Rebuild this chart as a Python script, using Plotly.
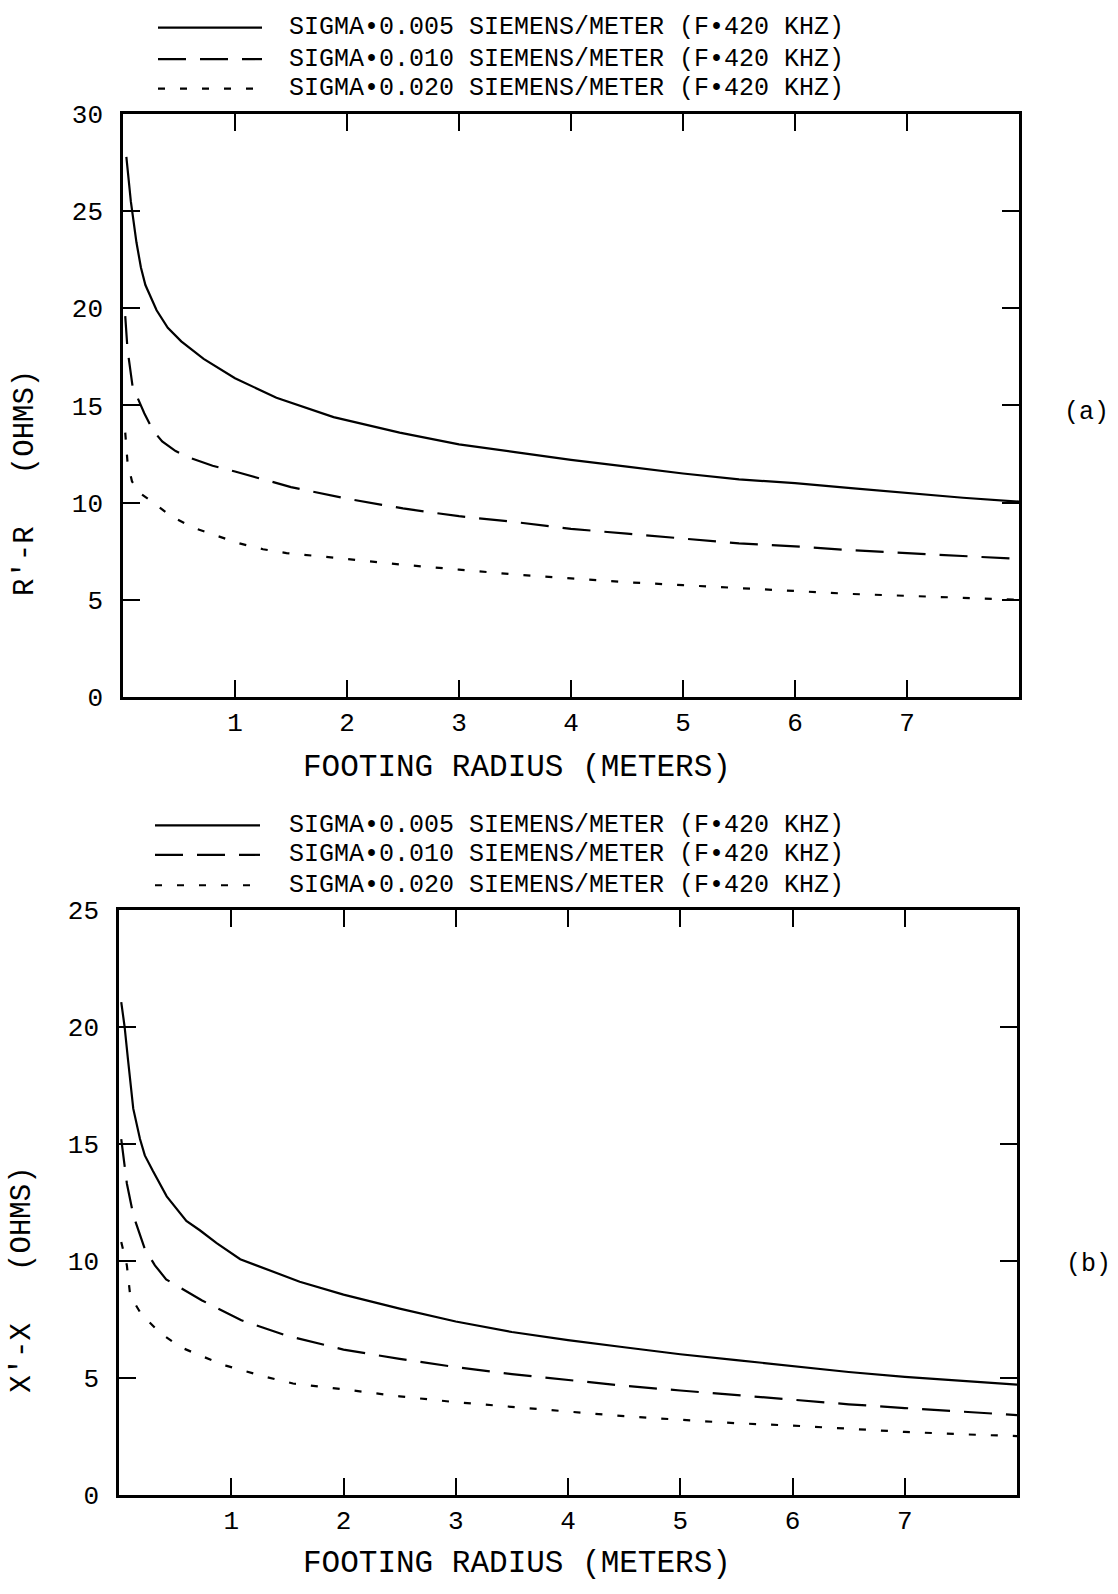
import plotly.graph_objects as go

# ---------------- data ----------------
# Panel (a): R'-R (ohms) vs footing radius (m)
xa_005 = [0.03, 0.07, 0.12, 0.16, 0.2, 0.25, 0.3, 0.4, 0.52, 0.72, 1.0, 1.37, 1.88, 2.47, 3.0, 3.5, 4.0, 4.5, 5.0, 5.5, 6.0, 6.5, 7.0, 7.5, 8.0]
ra_005 = [27.8, 25.5, 23.4, 22.1, 21.2, 20.5, 19.9, 19.0, 18.3, 17.4, 16.4, 15.4, 14.4, 13.6, 13.0, 12.6, 12.2, 11.85, 11.5, 11.2, 11.0, 10.75, 10.5, 10.25, 10.05]

xa_010 = [0.02, 0.04, 0.085, 0.19, 0.27, 0.35, 0.47, 0.6, 0.8, 1.0, 1.5, 2.0, 2.5, 3.0, 3.5, 4.0, 4.5, 5.0, 5.5, 6.0, 6.5, 7.0, 7.5, 8.0]
ra_010 = [19.6, 17.9, 16.0, 14.6, 13.7, 13.15, 12.65, 12.3, 11.9, 11.6, 10.8, 10.2, 9.7, 9.3, 9.0, 8.65, 8.4, 8.15, 7.9, 7.75, 7.55, 7.4, 7.25, 7.1]

xa_020 = [0.02, 0.04, 0.08, 0.15, 0.27, 0.43, 0.63, 0.84, 1.04, 1.25, 1.46, 2.0, 2.5, 3.0, 3.5, 4.0, 4.5, 5.0, 5.5, 6.0, 6.5, 7.0, 7.5, 8.0]
ra_020 = [13.6, 12.1, 11.1, 10.5, 10.0, 9.3, 8.7, 8.27, 7.9, 7.6, 7.4, 7.1, 6.8, 6.55, 6.3, 6.1, 5.9, 5.75, 5.6, 5.45, 5.3, 5.2, 5.1, 5.0]

# Panel (b): X'-X (ohms) vs footing radius (m)
xb_005 = [0.02, 0.05, 0.08, 0.127, 0.187, 0.23, 0.3, 0.425, 0.6, 0.72, 0.87, 1.08, 1.61, 2.0, 2.5, 3.0, 3.5, 4.0, 4.5, 5.0, 5.5, 6.0, 6.5, 7.0, 7.5, 8.0]
xb_005_v = [21.05, 20.0, 18.6, 16.5, 15.2, 14.5, 13.85, 12.75, 11.7, 11.3, 10.75, 10.06, 9.1, 8.55, 7.95, 7.4, 6.95, 6.6, 6.3, 6.0, 5.75, 5.5, 5.24, 5.03, 4.85, 4.7]

xb_010 = [0.02, 0.05, 0.07, 0.13, 0.23, 0.32, 0.42, 0.74, 1.09, 1.49, 2.0, 2.5, 3.0, 3.5, 4.0, 4.5, 5.0, 5.5, 6.0, 6.5, 7.0, 7.5, 8.0]
xb_010_v = [15.2, 14.0, 13.3, 11.9, 10.5, 9.8, 9.2, 8.3, 7.45, 6.8, 6.2, 5.8, 5.45, 5.15, 4.9, 4.65, 4.45, 4.25, 4.05, 3.86, 3.7, 3.55, 3.4]

xb_020 = [0.02, 0.07, 0.1, 0.2, 0.37, 0.55, 0.72, 0.96, 1.31, 1.55, 2.0, 2.5, 3.0, 3.5, 4.0, 4.5, 5.0, 5.5, 6.0, 6.5, 7.0, 7.5, 8.0]
xb_020_v = [10.8, 9.8, 8.5, 7.7, 6.9, 6.3, 5.95, 5.5, 5.03, 4.75, 4.5, 4.2, 3.95, 3.75, 3.55, 3.35, 3.2, 3.05, 2.95, 2.8, 2.68, 2.58, 2.5]

legend_labels = [
    "SIGMA•0.005 SIEMENS/METER (F•420 KHZ)",
    "SIGMA•0.010 SIEMENS/METER (F•420 KHZ)",
    "SIGMA•0.020 SIEMENS/METER (F•420 KHZ)",
]
x_tick_vals = [1, 2, 3, 4, 5, 6, 7]
ya_tick_vals = [0, 5, 10, 15, 20, 25, 30]
yb_tick_vals = [0, 5, 10, 15, 20, 25]

# ---------------- styling ----------------
W, H = 1118, 1594
FONT = "Liberation Mono"
dashes = ["solid", "28px,14px", "7px,15px"]


def px(xp):
    return xp / W


def py(yp):
    return 1 - yp / H


fig = go.Figure()

series_a = [(xa_005, ra_005), (xa_010, ra_010), (xa_020, ra_020)]
series_b = [(xb_005, xb_005_v), (xb_010, xb_010_v), (xb_020, xb_020_v)]

for (xs, ys), d, name in zip(series_a, dashes, legend_labels):
    fig.add_trace(go.Scatter(x=xs, y=ys, mode="lines", name=name, showlegend=False,
                             line=dict(color="black", width=2.2, dash=d),
                             xaxis="x", yaxis="y"))
for (xs, ys), d, name in zip(series_b, dashes, legend_labels):
    fig.add_trace(go.Scatter(x=xs, y=ys, mode="lines", name=name, showlegend=False,
                             line=dict(color="black", width=2.2, dash=d),
                             xaxis="x2", yaxis="y2"))

axis_common = dict(
    showline=True, linecolor="black", linewidth=2.5, mirror="ticks",
    ticks="inside", ticklen=17, tickwidth=2, tickcolor="black",
    showgrid=False, zeroline=False,
    tickfont=dict(family=FONT, size=26, color="black"),
)

fig.update_layout(
    width=W, height=H,
    margin=dict(l=0, r=0, t=0, b=0),
    paper_bgcolor="white", plot_bgcolor="white",
    xaxis=dict(domain=[px(123), px(1019)], range=[0, 8], tickvals=x_tick_vals,
               anchor="y", ticklabelstandoff=0, **axis_common),
    yaxis=dict(domain=[py(697), py(103)], range=[0, 30], tickvals=ya_tick_vals,
               anchor="x", ticklabelstandoff=12, **axis_common),
    xaxis2=dict(domain=[px(119), px(1017)], range=[0, 8], tickvals=x_tick_vals,
                anchor="y2", ticklabelstandoff=0, **axis_common),
    yaxis2=dict(domain=[py(1510), py(914)], range=[0, 25], tickvals=yb_tick_vals,
                anchor="x2", ticklabelstandoff=12, **axis_common),
)

annotations = []
shapes = []

# legends (drawn manually to get the long line samples)
legend_rows = [[15, 47, 77], [828, 858, 889]]
for rows, (x0, x1) in zip(legend_rows, [(158, 262), (155, 260)]):
    for yr, d, lab in zip(rows, dashes, legend_labels):
        shapes.append(dict(type="line", xref="paper", yref="paper",
                           x0=px(x0), x1=px(x1), y0=py(yr), y1=py(yr),
                           line=dict(color="black", width=2.2, dash=d)))
        annotations.append(dict(text=lab, xref="paper", yref="paper",
                                x=px(287), y=py(yr), xanchor="left", yanchor="middle",
                                showarrow=False,
                                font=dict(family=FONT, size=25, color="black")))

# axis titles
for yc in [769, 1580]:
    annotations.append(dict(text="FOOTING RADIUS (METERS)", xref="paper", yref="paper",
                            x=px(517), y=py(yc), xanchor="center", yanchor="middle",
                            showarrow=False, font=dict(family=FONT, size=31, color="black")))
annotations.append(dict(text="R'-R   (OHMS)", xref="paper", yref="paper",
                        x=px(26), y=py(479), xanchor="center", yanchor="middle",
                        textangle=-90, showarrow=False,
                        font=dict(family=FONT, size=29, color="black")))
annotations.append(dict(text="X'-X   (OHMS)", xref="paper", yref="paper",
                        x=px(23), y=py(1291), xanchor="center", yanchor="middle",
                        textangle=-90, showarrow=False,
                        font=dict(family=FONT, size=29, color="black")))

# panel labels
annotations.append(dict(text="(a)", xref="paper", yref="paper", x=px(1086), y=py(407),
                        xanchor="center", yanchor="middle", showarrow=False,
                        font=dict(family=FONT, size=25, color="black")))
annotations.append(dict(text="(b)", xref="paper", yref="paper", x=px(1088), y=py(1276),
                        xanchor="center", yanchor="middle", showarrow=False,
                        font=dict(family=FONT, size=25, color="black")))

fig.update_layout(annotations=annotations, shapes=shapes)
fig.write_html("out.html")
